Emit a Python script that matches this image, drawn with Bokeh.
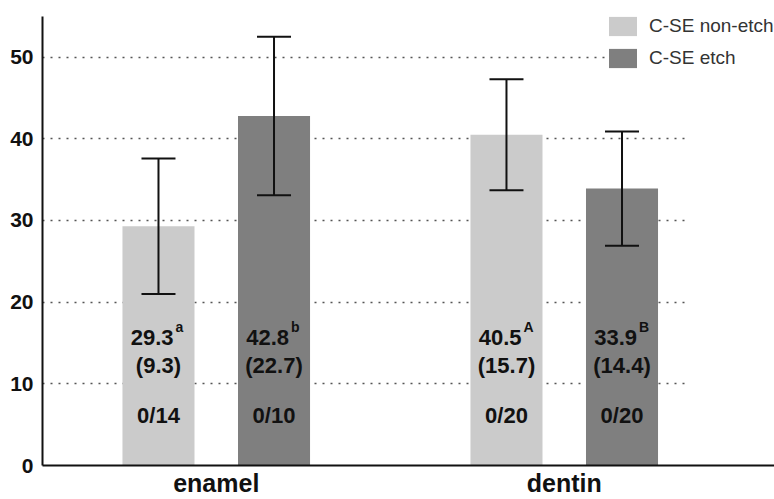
from bokeh.plotting import figure
from bokeh.models import (ColumnDataSource, Whisker, TeeHead, Legend, LegendItem,
                          FixedTicker, Range1d, Grid)
from bokeh.core.properties import value
from bokeh.embed import file_html
from bokeh.resources import INLINE

# ---------------- data ----------------
groups = ["enamel", "dentin"]
series = ["C-SE non-etch", "C-SE etch"]
mean_nonetch = [29.3, 40.5]
mean_etch = [42.8, 33.9]
sd_nonetch = ["(9.3)", "(15.7)"]
sd_etch = ["(22.7)", "(14.4)"]
sup_nonetch = ["a", "A"]
sup_etch = ["b", "B"]
fail_nonetch = ["0/14", "0/20"]
fail_etch = ["0/10", "0/20"]
err_nonetch = [8.3, 6.8]
err_etch = [9.7, 7.0]
y_ticks = [0, 10, 20, 30, 40, 50]

# ---------------- style / layout ----------------
FONT = "Liberation Sans"
COLORS = ["#cbcbcb", "#7f7f7f"]
OFFSETS = [-0.166, 0.166]
BAR_W = 0.207
X_START, X_END = -0.4993, 1.6042
GRID_END = 1.363
Y_END = 56.93
Y_MEAN, Y_SD, Y_FAIL = 15.73, 12.29, 6.08

p = figure(width=774, height=499, output_backend="svg", toolbar_location=None,
           x_range=Range1d(X_START, X_END), y_range=Range1d(0, Y_END),
           min_border_left=42, min_border_right=0, min_border_top=0,
           min_border_bottom=31, outline_line_color=None)
p.title.visible = False
p.background_fill_color = "white"
p.border_fill_color = "white"

# grid
p.xgrid.visible = False
p.ygrid.ticker = FixedTicker(ticks=[t for t in y_ticks if t > 0])
p.ygrid.grid_line_color = "#555555"
p.ygrid.grid_line_width = 1.6
p.ygrid.grid_line_dash = "2 6"
if "cross_bounds" in Grid.properties():
    p.ygrid.cross_bounds = (X_START, GRID_END)

# axes
p.yaxis.ticker = FixedTicker(ticks=y_ticks)
p.yaxis.bounds = (0, 55)
p.yaxis.major_tick_line_color = None
p.yaxis.major_tick_out = 0
p.yaxis.minor_tick_line_color = None
p.yaxis.axis_line_width = 2
p.yaxis.axis_line_color = "#111111"
p.yaxis.major_label_text_font = FONT
p.yaxis.major_label_text_font_style = "bold"
p.yaxis.major_label_text_font_size = "21px"
p.yaxis.major_label_text_color = "#111111"
p.yaxis.major_label_standoff = 9

p.xaxis.ticker = FixedTicker(ticks=list(range(len(groups))))
p.xaxis.major_label_overrides = {i: g for i, g in enumerate(groups)}
p.xaxis.major_tick_line_color = None
p.xaxis.major_tick_out = 0
p.xaxis.minor_tick_line_color = None
p.xaxis.axis_line_width = 2
p.xaxis.axis_line_color = "#111111"
p.xaxis.major_label_text_font = FONT
p.xaxis.major_label_text_font_style = "bold"
p.xaxis.major_label_text_font_size = "25px"
p.xaxis.major_label_text_color = "#111111"
p.xaxis.major_label_standoff = 3

means = [mean_nonetch, mean_etch]
sds = [sd_nonetch, sd_etch]
sups = [sup_nonetch, sup_etch]
fails = [fail_nonetch, fail_etch]
errs = [err_nonetch, err_etch]

items = []
for k, name in enumerate(series):
    xs = [i + OFFSETS[k] for i in range(len(groups))]
    src = ColumnDataSource(dict(
        x=xs, top=means[k],
        upper=[m + e for m, e in zip(means[k], errs[k])],
        lower=[m - e for m, e in zip(means[k], errs[k])],
        mean_txt=[f"{m:.1f}" for m in means[k]],
        sd_txt=sds[k], sup_txt=sups[k], fail_txt=fails[k],
        y_mean=[Y_MEAN] * len(xs), y_sd=[Y_SD] * len(xs), y_fail=[Y_FAIL] * len(xs),
    ))
    r = p.vbar(x="x", top="top", width=BAR_W, bottom=0, source=src,
               fill_color=COLORS[k], line_color=None)
    items.append(LegendItem(label=name, renderers=[r]))

    common = dict(source=src, text_font=value(FONT), text_font_style="bold",
                  text_color="#111111", text_baseline="middle")
    p.text(x="x", y="y_mean", text="mean_txt", text_align="right",
           x_offset=15, text_font_size="22px", **common)
    p.text(x="x", y="y_mean", text="sup_txt", text_align="left",
           x_offset=17, y_offset=-10, text_font_size="14px", **common)
    p.text(x="x", y="y_sd", text="sd_txt", text_align="center",
           text_font_size="22px", **common)
    p.text(x="x", y="y_fail", text="fail_txt", text_align="center",
           text_font_size="22px", **common)

    w = Whisker(base="x", upper="upper", lower="lower", source=src,
                line_color="#111111", line_width=2, level="annotation",
                upper_head=TeeHead(size=34, line_color="#111111", line_width=2),
                lower_head=TeeHead(size=34, line_color="#111111", line_width=2))
    p.add_layout(w)

legend = Legend(items=items, location=(563, 395), padding=10, spacing=8,
                glyph_width=35, glyph_height=24, label_standoff=9,
                label_text_font=FONT, label_text_font_size="19px",
                label_text_color="#333333", background_fill_color="white",
                background_fill_alpha=1.0, border_line_color=None, margin=0)
p.add_layout(legend)

open("out.html", "w").write(file_html(p, INLINE))
